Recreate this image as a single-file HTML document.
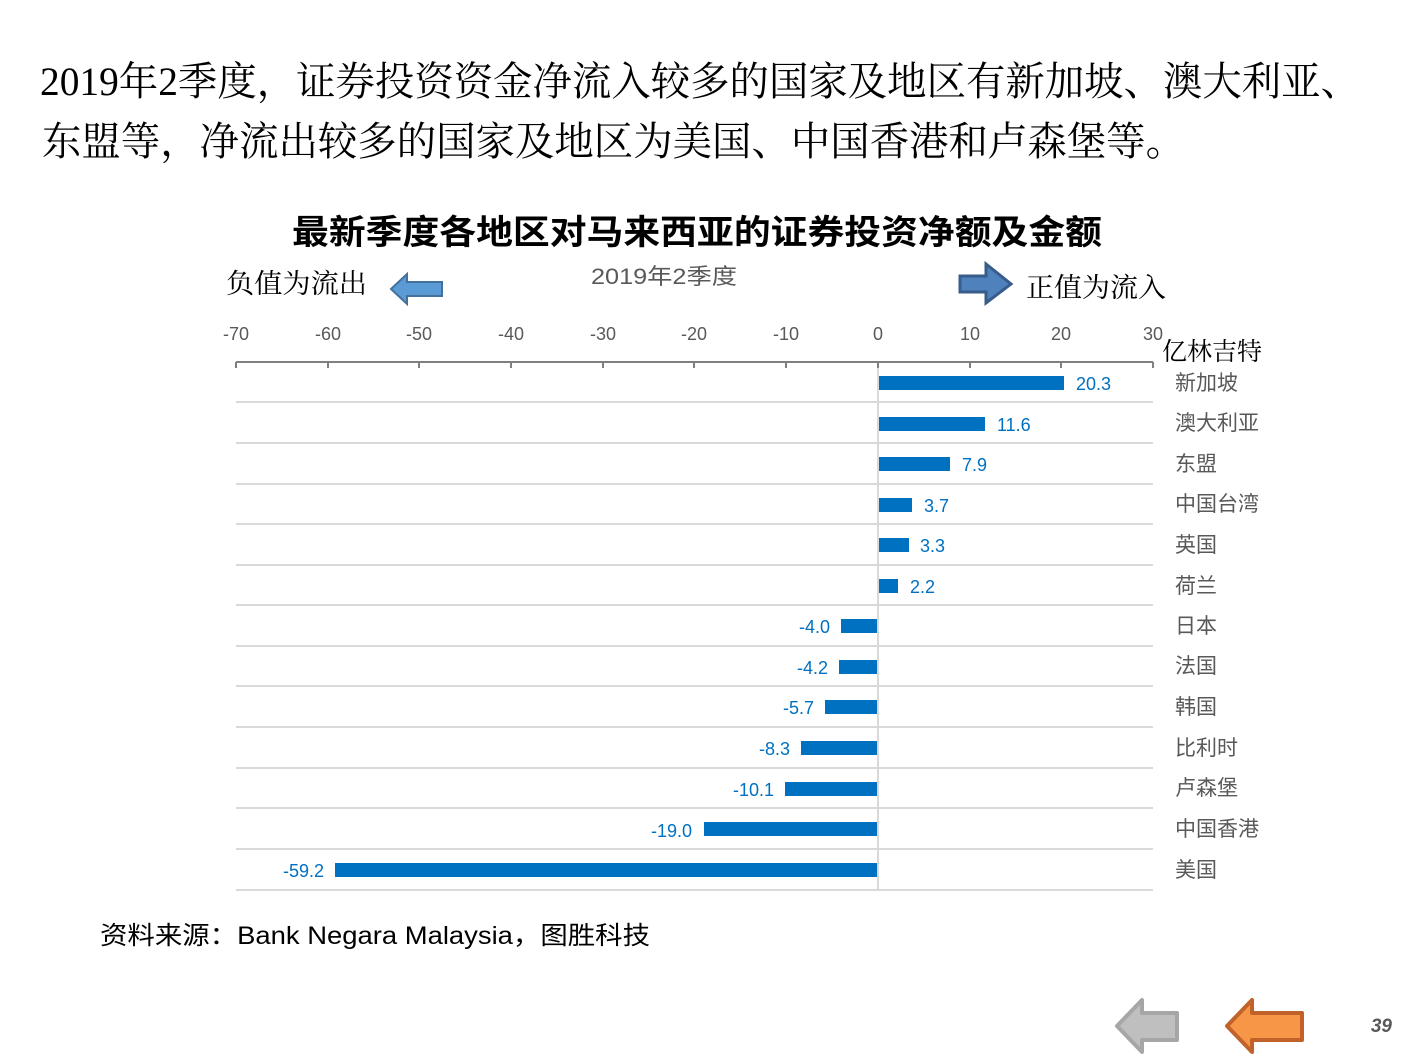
<!DOCTYPE html>
<html><head><meta charset="utf-8"><style>
body{margin:0;background:#fff;width:1411px;height:1058px;overflow:hidden;}
svg{display:block}
</style></head><body>
<svg width="1411" height="1058" xmlns="http://www.w3.org/2000/svg">
<g font-family="'Liberation Serif','Noto Serif CJK SC',serif" font-size="40" fill="#000">
<text x="40" y="95" textLength="1320" lengthAdjust="spacingAndGlyphs">2019年2季度，证券投资资金净流入较多的国家及地区有新加坡、澳大利亚、</text>
<text x="42" y="155" textLength="1143" lengthAdjust="spacingAndGlyphs">东盟等，净流出较多的国家及地区为美国、中国香港和卢森堡等。</text>
</g>
<text x="697" y="244" text-anchor="middle" font-family="'Noto Sans CJK SC',sans-serif" font-weight="bold" font-size="34" textLength="810" lengthAdjust="spacingAndGlyphs">最新季度各地区对马来西亚的证券投资净额及金额</text>
<g font-family="'Noto Serif CJK SC',serif" font-size="27" fill="#000">
<text x="226" y="293" textLength="141" lengthAdjust="spacingAndGlyphs">负值为流出</text>
<text x="1026" y="297" textLength="140" lengthAdjust="spacingAndGlyphs">正值为流入</text>
<text x="1162" y="360" font-size="25">亿林吉特</text>
</g>
<text x="664" y="284" text-anchor="middle" font-family="'Liberation Sans','Noto Sans CJK SC',sans-serif" font-size="22" fill="#595959" textLength="146" lengthAdjust="spacingAndGlyphs">2019年2季度</text>
<polygon points="391,289 407,274 407,282 442,282 442,296 407,296 407,304" fill="#5B9BD5" stroke="#41719C" stroke-width="2"/>
<polygon points="960,276 986,276 986,264 1011,284 986,303 986,292 960,292" fill="#4F81BD" stroke="#385D8A" stroke-width="3"/>
<g font-family="'Liberation Sans',sans-serif" font-size="18" fill="#595959" text-anchor="middle">
<text x="236" y="340">-70</text><text x="328" y="340">-60</text><text x="419" y="340">-50</text><text x="511" y="340">-40</text><text x="603" y="340">-30</text><text x="694" y="340">-20</text><text x="786" y="340">-10</text><text x="878" y="340">0</text><text x="970" y="340">10</text><text x="1061" y="340">20</text><text x="1153" y="340">30</text>
</g>
<g stroke="#D9D9D9" stroke-width="2">
<line x1="236" y1="402" x2="1153" y2="402"/><line x1="236" y1="443" x2="1153" y2="443"/><line x1="236" y1="484" x2="1153" y2="484"/><line x1="236" y1="524" x2="1153" y2="524"/><line x1="236" y1="565" x2="1153" y2="565"/><line x1="236" y1="605" x2="1153" y2="605"/><line x1="236" y1="646" x2="1153" y2="646"/><line x1="236" y1="686" x2="1153" y2="686"/><line x1="236" y1="727" x2="1153" y2="727"/><line x1="236" y1="768" x2="1153" y2="768"/><line x1="236" y1="808" x2="1153" y2="808"/><line x1="236" y1="849" x2="1153" y2="849"/><line x1="236" y1="890" x2="1153" y2="890"/>
<line x1="878" y1="362" x2="878" y2="890"/>
</g>
<g stroke="#808080" stroke-width="2">
<line x1="236" y1="362" x2="1153" y2="362"/>
<line x1="236" y1="362" x2="236" y2="368"/><line x1="328" y1="362" x2="328" y2="368"/><line x1="419" y1="362" x2="419" y2="368"/><line x1="511" y1="362" x2="511" y2="368"/><line x1="603" y1="362" x2="603" y2="368"/><line x1="694" y1="362" x2="694" y2="368"/><line x1="786" y1="362" x2="786" y2="368"/><line x1="878" y1="362" x2="878" y2="368"/><line x1="970" y1="362" x2="970" y2="368"/><line x1="1061" y1="362" x2="1061" y2="368"/><line x1="1153" y1="362" x2="1153" y2="368"/>
</g>
<g fill="#0070C0">
<rect x="879" y="376" width="185" height="14"/>
<rect x="879" y="417" width="106" height="14"/>
<rect x="879" y="457" width="71" height="14"/>
<rect x="879" y="498" width="33" height="14"/>
<rect x="879" y="538" width="30" height="14"/>
<rect x="879" y="579" width="19" height="14"/>
<rect x="841" y="619" width="36" height="14"/>
<rect x="839" y="660" width="38" height="14"/>
<rect x="825" y="700" width="52" height="14"/>
<rect x="801" y="741" width="76" height="14"/>
<rect x="785" y="782" width="92" height="14"/>
<rect x="704" y="822" width="173" height="14"/>
<rect x="335" y="863" width="542" height="14"/>
</g>
<g font-family="'Liberation Sans',sans-serif" font-size="18" fill="#0070C0">
<text x="1076" y="390">20.3</text><text x="997" y="431">11.6</text><text x="962" y="471">7.9</text><text x="924" y="512">3.7</text><text x="920" y="552">3.3</text><text x="910" y="593">2.2</text>
<g text-anchor="end"><text x="830" y="633">-4.0</text><text x="828" y="674">-4.2</text><text x="814" y="714">-5.7</text><text x="790" y="755">-8.3</text><text x="774" y="796">-10.1</text><text x="692" y="837">-19.0</text><text x="324" y="877">-59.2</text></g>
</g>
<g font-family="'Noto Sans CJK SC',sans-serif" font-size="21" fill="#595959">
<text x="1175" y="390">新加坡</text><text x="1175" y="430">澳大利亚</text><text x="1175" y="471">东盟</text><text x="1175" y="511">中国台湾</text><text x="1175" y="552">英国</text><text x="1175" y="593">荷兰</text><text x="1175" y="633">日本</text><text x="1175" y="673">法国</text><text x="1175" y="714">韩国</text><text x="1175" y="755">比利时</text><text x="1175" y="795">卢森堡</text><text x="1175" y="836">中国香港</text><text x="1175" y="877">美国</text>
</g>
<text x="100" y="944" font-family="'Liberation Sans','Noto Sans CJK SC',sans-serif" font-size="25" fill="#000" textLength="550" lengthAdjust="spacingAndGlyphs">资料来源：Bank Negara Malaysia，图胜科技</text>
<polygon points="1117,1026 1142,1000 1142,1013 1177,1013 1177,1040 1142,1040 1142,1052" fill="#BFBFBF" stroke="#A6A6A6" stroke-width="4" stroke-linejoin="round"/>
<polygon points="1227,1026 1252,1000 1252,1013 1302,1013 1302,1040 1252,1040 1252,1052" fill="#F79646" stroke="#C0622A" stroke-width="4" stroke-linejoin="round"/>
<text x="1392" y="1032" text-anchor="end" font-family="'Liberation Sans',sans-serif" font-size="19" font-weight="bold" font-style="italic" fill="#595959">39</text>
</svg>
</body></html>
